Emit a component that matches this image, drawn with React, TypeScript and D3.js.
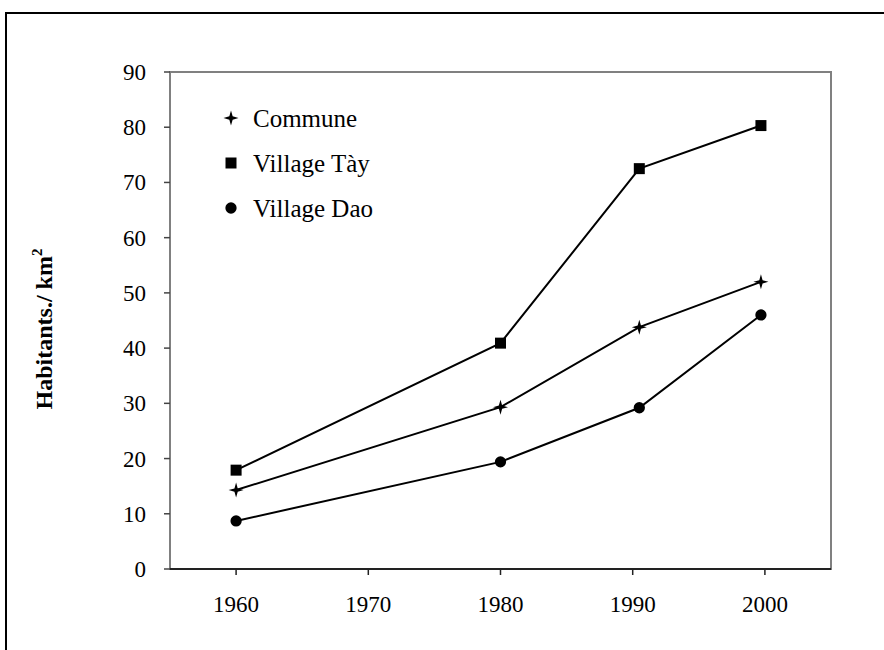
import React from "react";
import * as d3 from "d3";

const years = [1960, 1980, 1990.5, 1999.7];
const commune = [14.3, 29.3, 43.8, 52.0];
const villageTay = [17.9, 40.9, 72.5, 80.3];
const villageDao = [8.7, 19.4, 29.2, 46.0];
const seriesNames = ["Commune", "Village Tày", "Village Dao"];
const xTicks = [1960, 1970, 1980, 1990, 2000];
const yTicks = [0, 10, 20, 30, 40, 50, 60, 70, 80, 90];

const W = 884;
const H = 650;
const M = { left: 170, right: 831, top: 72, bottom: 569 };
const FONT = "'Liberation Serif', 'Times New Roman', serif";

const star4: d3.SymbolType = {
  draw(ctx, size) {
    const r = Math.sqrt(size) * 0.75;
    const i = r * 0.22;
    ctx.moveTo(0, -r);
    ctx.lineTo(i, -i);
    ctx.lineTo(r, 0);
    ctx.lineTo(i, i);
    ctx.lineTo(0, r);
    ctx.lineTo(-i, i);
    ctx.lineTo(-r, 0);
    ctx.lineTo(-i, -i);
    ctx.closePath();
  },
};

export default function App() {
  const x = d3.scaleLinear().domain([1955, 2005]).range([M.left, M.right]);
  const y = d3.scaleLinear().domain([0, 90]).range([M.bottom, M.top]);
  const line = d3
    .line<[number, number]>()
    .x((d) => x(d[0]))
    .y((d) => y(d[1]));

  const series = [
    { name: seriesNames[0], values: commune, sym: star4, size: 100 },
    { name: seriesNames[1], values: villageTay, sym: d3.symbolSquare, size: 121 },
    { name: seriesNames[2], values: villageDao, sym: d3.symbolCircle, size: 100 },
  ];

  return (
    <svg
      width={W}
      height={H}
      style={{ position: "absolute", left: 0, top: 0, background: "#fff" }}
      fontFamily={FONT}
    >
      <rect x={0} y={0} width={W} height={H} fill="#fff" />
      <rect x={6} y={13} width={W + 20} height={H + 20} fill="none" stroke="#000" strokeWidth={2} />
      {/* plot frame */}
      <rect
        x={M.left}
        y={M.top}
        width={M.right - M.left}
        height={M.bottom - M.top}
        fill="none"
        stroke="#808080"
        strokeWidth={2}
      />
      <line x1={M.left} x2={M.right} y1={M.bottom} y2={M.bottom} stroke="#222" strokeWidth={2} />
      {/* y ticks */}
      {yTicks.map((t) => (
        <g key={"y" + t}>
          <line x1={M.left - 6} x2={M.left} y1={y(t)} y2={y(t)} stroke="#444" strokeWidth={1.5} />
          <text x={146} y={y(t)} dy="0.35em" textAnchor="end" fontSize={23}>
            {t}
          </text>
        </g>
      ))}
      {/* x ticks */}
      {xTicks.map((t) => (
        <g key={"x" + t}>
          <line x1={x(t)} x2={x(t)} y1={M.bottom} y2={M.bottom + 6} stroke="#222" strokeWidth={1.5} />
          <text x={x(t)} y={612} textAnchor="middle" fontSize={23}>
            {t}
          </text>
        </g>
      ))}
      {/* y title */}
      <text
        transform={`translate(52, 329) rotate(-90)`}
        textAnchor="middle"
        fontSize={24}
        fontWeight="bold"
      >
        Habitants./ km<tspan fontSize={15} dy={-10}>2</tspan>
      </text>
      {/* series */}
      {series.map((s) => {
        const pts: [number, number][] = s.values.map((v, i) => [years[i], v]);
        const sym = d3.symbol().type(s.sym).size(s.size)();
        return (
          <g key={s.name}>
            <path d={line(pts) || ""} fill="none" stroke="#000" strokeWidth={2} />
            {pts.map((p, i) => (
              <path key={i} d={sym || ""} transform={`translate(${x(p[0])},${y(p[1])})`} fill="#000" />
            ))}
          </g>
        );
      })}
      {/* legend */}
      {series.map((s, i) => {
        const sym = d3.symbol().type(s.sym).size(s.size)();
        const ly = 118 + i * 45;
        return (
          <g key={"l" + s.name}>
            <path d={sym || ""} transform={`translate(231,${ly})`} fill="#000" />
            <text x={253} y={ly} dy="0.35em" fontSize={25}>
              {s.name}
            </text>
          </g>
        );
      })}
    </svg>
  );
}
